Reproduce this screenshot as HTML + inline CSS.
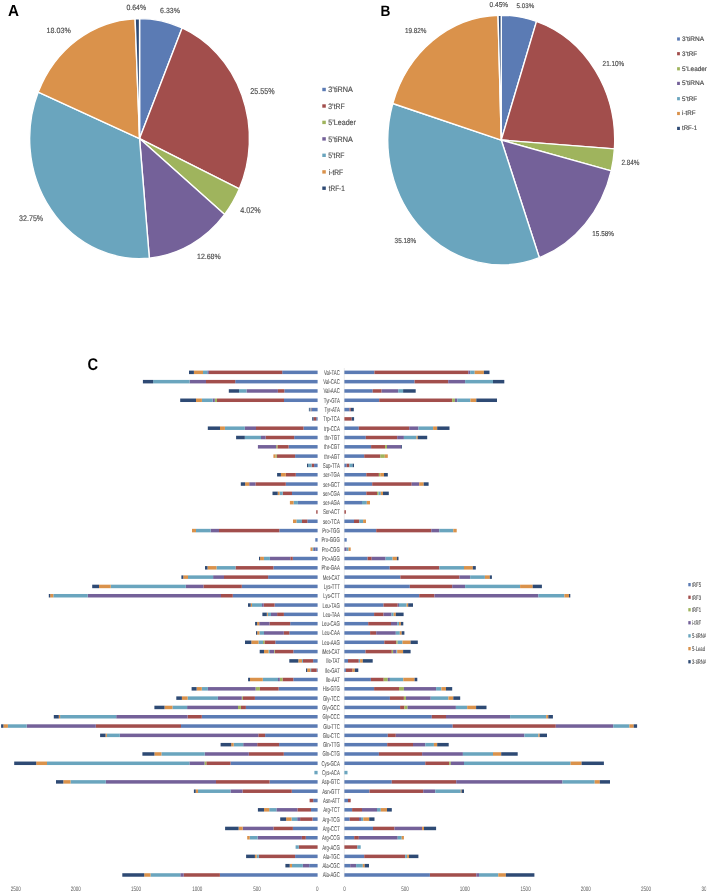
<!DOCTYPE html>
<html><head><meta charset="utf-8"><style>
html,body{margin:0;padding:0;background:#fff;}
body{width:708px;height:892px;position:relative;overflow:hidden;font-family:"Liberation Sans",sans-serif;}
svg text{font-family:"Liberation Sans",sans-serif;text-rendering:geometricPrecision;}
</style></head><body>
<svg width="708" height="892" viewBox="0 0 708 892" style="position:absolute;left:0;top:0;will-change:transform">
<path d="M139.55,138.6 L139.55,18.6 A109.9,120 0 0 1 182.12,27.97 Z" fill="#5b7bb4" stroke="#fff" stroke-width="1.4" stroke-linejoin="round"/>
<path d="M139.55,138.6 L182.12,27.97 A109.9,120 0 0 1 239.34,188.87 Z" fill="#a24e4c" stroke="#fff" stroke-width="1.4" stroke-linejoin="round"/>
<path d="M139.55,138.6 L239.34,188.87 A109.9,120 0 0 1 224.67,214.51 Z" fill="#9fb45d" stroke="#fff" stroke-width="1.4" stroke-linejoin="round"/>
<path d="M139.55,138.6 L224.67,214.51 A109.9,120 0 0 1 149.34,258.12 Z" fill="#746199" stroke="#fff" stroke-width="1.4" stroke-linejoin="round"/>
<path d="M139.55,138.6 L149.34,258.12 A109.9,120 0 0 1 38.23,92.12 Z" fill="#6aa5be" stroke="#fff" stroke-width="1.4" stroke-linejoin="round"/>
<path d="M139.55,138.6 L38.23,92.12 A109.9,120 0 0 1 135.13,18.7 Z" fill="#da924b" stroke="#fff" stroke-width="1.4" stroke-linejoin="round"/>
<path d="M139.55,138.6 L135.13,18.7 A109.9,120 0 0 1 139.55,18.6 Z" fill="#2e4a74" stroke="#fff" stroke-width="1.4" stroke-linejoin="round"/>
<path d="M501.25,140.05 L501.25,15.2 A113.45,124.85 0 0 1 536.51,21.38 Z" fill="#5b7bb4" stroke="#fff" stroke-width="1.4" stroke-linejoin="round"/>
<path d="M501.25,140.05 L536.51,21.38 A113.45,124.85 0 0 1 614.41,148.91 Z" fill="#a24e4c" stroke="#fff" stroke-width="1.4" stroke-linejoin="round"/>
<path d="M501.25,140.05 L614.41,148.91 A113.45,124.85 0 0 1 611.19,170.87 Z" fill="#9fb45d" stroke="#fff" stroke-width="1.4" stroke-linejoin="round"/>
<path d="M501.25,140.05 L611.19,170.87 A113.45,124.85 0 0 1 539.34,257.65 Z" fill="#746199" stroke="#fff" stroke-width="1.4" stroke-linejoin="round"/>
<path d="M501.25,140.05 L539.34,257.65 A113.45,124.85 0 0 1 392.77,103.49 Z" fill="#6aa5be" stroke="#fff" stroke-width="1.4" stroke-linejoin="round"/>
<path d="M501.25,140.05 L392.77,103.49 A113.45,124.85 0 0 1 498.04,15.25 Z" fill="#da924b" stroke="#fff" stroke-width="1.4" stroke-linejoin="round"/>
<path d="M501.25,140.05 L498.04,15.25 A113.45,124.85 0 0 1 501.25,15.2 Z" fill="#2e4a74" stroke="#fff" stroke-width="1.4" stroke-linejoin="round"/>
<text x="8" y="15.8" font-size="16" fill="#000" font-weight="bold" text-anchor="start" textLength="11" lengthAdjust="spacingAndGlyphs">A</text>
<text x="380.5" y="15.7" font-size="15" fill="#000" font-weight="bold" text-anchor="start" textLength="9.9" lengthAdjust="spacingAndGlyphs">B</text>
<text x="87.4" y="370.1" font-size="17" fill="#000" font-weight="bold" text-anchor="start" textLength="10.6" lengthAdjust="spacingAndGlyphs">C</text>
<text x="126.4" y="9.9" font-size="7.68" fill="#505050" font-weight="normal" text-anchor="start" textLength="19.7" lengthAdjust="spacingAndGlyphs" stroke="#505050" stroke-width="0.18">0.64%</text>
<text x="160.1" y="12.7" font-size="7.4" fill="#505050" font-weight="normal" text-anchor="start" textLength="19.8" lengthAdjust="spacingAndGlyphs" stroke="#505050" stroke-width="0.18">6.33%</text>
<text x="250.3" y="94" font-size="8.52" fill="#505050" font-weight="normal" text-anchor="start" textLength="24.4" lengthAdjust="spacingAndGlyphs" stroke="#505050" stroke-width="0.18">25.55%</text>
<text x="240.3" y="212.7" font-size="8.38" fill="#505050" font-weight="normal" text-anchor="start" textLength="20.5" lengthAdjust="spacingAndGlyphs" stroke="#505050" stroke-width="0.18">4.02%</text>
<text x="197" y="259" font-size="7.54" fill="#505050" font-weight="normal" text-anchor="start" textLength="23.7" lengthAdjust="spacingAndGlyphs" stroke="#505050" stroke-width="0.18">12.68%</text>
<text x="19.1" y="220.7" font-size="8.1" fill="#505050" font-weight="normal" text-anchor="start" textLength="24.1" lengthAdjust="spacingAndGlyphs" stroke="#505050" stroke-width="0.18">32.75%</text>
<text x="46.6" y="32.7" font-size="7.68" fill="#505050" font-weight="normal" text-anchor="start" textLength="24.2" lengthAdjust="spacingAndGlyphs" stroke="#505050" stroke-width="0.18">18.03%</text>
<text x="489.6" y="6.8" font-size="7.12" fill="#505050" font-weight="normal" text-anchor="start" textLength="18.5" lengthAdjust="spacingAndGlyphs" stroke="#505050" stroke-width="0.18">0.45%</text>
<text x="516.6" y="7.9" font-size="6.7" fill="#505050" font-weight="normal" text-anchor="start" textLength="17.6" lengthAdjust="spacingAndGlyphs" stroke="#505050" stroke-width="0.18">5.03%</text>
<text x="602.6" y="66.2" font-size="7.26" fill="#505050" font-weight="normal" text-anchor="start" textLength="21.6" lengthAdjust="spacingAndGlyphs" stroke="#505050" stroke-width="0.18">21.10%</text>
<text x="621.4" y="164.7" font-size="7.54" fill="#505050" font-weight="normal" text-anchor="start" textLength="18" lengthAdjust="spacingAndGlyphs" stroke="#505050" stroke-width="0.18">2.84%</text>
<text x="592.3" y="236.1" font-size="7.12" fill="#505050" font-weight="normal" text-anchor="start" textLength="21.6" lengthAdjust="spacingAndGlyphs" stroke="#505050" stroke-width="0.18">15.58%</text>
<text x="394.6" y="243.1" font-size="7.26" fill="#505050" font-weight="normal" text-anchor="start" textLength="21.6" lengthAdjust="spacingAndGlyphs" stroke="#505050" stroke-width="0.18">35.18%</text>
<text x="404.9" y="33.1" font-size="7.26" fill="#505050" font-weight="normal" text-anchor="start" textLength="21.6" lengthAdjust="spacingAndGlyphs" stroke="#505050" stroke-width="0.18">19.82%</text>
<rect x="322.3" y="87.8" width="3.5" height="3.4" fill="#5b7bb4"/>
<text x="328.3" y="92.1" font-size="7.8" fill="#505050" font-weight="normal" text-anchor="start" textLength="24.5" lengthAdjust="spacingAndGlyphs" stroke="#505050" stroke-width="0.18">3&#8217;tiRNA</text>
<rect x="322.3" y="104.3" width="3.5" height="3.4" fill="#a24e4c"/>
<text x="328.3" y="108.6" font-size="7.8" fill="#505050" font-weight="normal" text-anchor="start" textLength="16.4" lengthAdjust="spacingAndGlyphs" stroke="#505050" stroke-width="0.18">3&#8217;tRF</text>
<rect x="322.3" y="120.7" width="3.5" height="3.4" fill="#9fb45d"/>
<text x="328.3" y="125" font-size="7.8" fill="#505050" font-weight="normal" text-anchor="start" textLength="27.6" lengthAdjust="spacingAndGlyphs" stroke="#505050" stroke-width="0.18">5&#8217;Leader</text>
<rect x="322.3" y="137.2" width="3.5" height="3.4" fill="#746199"/>
<text x="328.3" y="141.5" font-size="7.8" fill="#505050" font-weight="normal" text-anchor="start" textLength="24.5" lengthAdjust="spacingAndGlyphs" stroke="#505050" stroke-width="0.18">5&#8217;tiRNA</text>
<rect x="322.3" y="153.6" width="3.5" height="3.4" fill="#6aa5be"/>
<text x="328.3" y="157.9" font-size="7.8" fill="#505050" font-weight="normal" text-anchor="start" textLength="16.2" lengthAdjust="spacingAndGlyphs" stroke="#505050" stroke-width="0.18">5&#8217;tRF</text>
<rect x="322.3" y="170.2" width="3.5" height="3.4" fill="#da924b"/>
<text x="328.7" y="174.5" font-size="7.8" fill="#505050" font-weight="normal" text-anchor="start" textLength="14.5" lengthAdjust="spacingAndGlyphs" stroke="#505050" stroke-width="0.18">i-tRF</text>
<rect x="322.3" y="186.5" width="3.5" height="3.4" fill="#2e4a74"/>
<text x="328.7" y="190.8" font-size="7.8" fill="#505050" font-weight="normal" text-anchor="start" textLength="16.1" lengthAdjust="spacingAndGlyphs" stroke="#505050" stroke-width="0.18">tRF-1</text>
<rect x="677.1" y="37.4" width="2.8" height="3.2" fill="#5b7bb4"/>
<text x="682" y="40.9" font-size="6.6" fill="#505050" font-weight="normal" text-anchor="start" textLength="22.1" lengthAdjust="spacingAndGlyphs" stroke="#505050" stroke-width="0.18">3&#8217;tiRNA</text>
<rect x="677.1" y="52.1" width="2.8" height="3.2" fill="#a24e4c"/>
<text x="682" y="55.6" font-size="6.6" fill="#505050" font-weight="normal" text-anchor="start" textLength="15" lengthAdjust="spacingAndGlyphs" stroke="#505050" stroke-width="0.18">3&#8217;tRF</text>
<rect x="677.1" y="67.2" width="2.8" height="3.2" fill="#9fb45d"/>
<text x="682" y="70.7" font-size="6.6" fill="#505050" font-weight="normal" text-anchor="start" textLength="25" lengthAdjust="spacingAndGlyphs" stroke="#505050" stroke-width="0.18">5&#8217;Leader</text>
<rect x="677.1" y="81.8" width="2.8" height="3.2" fill="#746199"/>
<text x="682" y="85.3" font-size="6.6" fill="#505050" font-weight="normal" text-anchor="start" textLength="22.1" lengthAdjust="spacingAndGlyphs" stroke="#505050" stroke-width="0.18">5&#8217;tiRNA</text>
<rect x="677.1" y="97.1" width="2.8" height="3.2" fill="#6aa5be"/>
<text x="682" y="100.6" font-size="6.6" fill="#505050" font-weight="normal" text-anchor="start" textLength="15" lengthAdjust="spacingAndGlyphs" stroke="#505050" stroke-width="0.18">5&#8217;tRF</text>
<rect x="677.1" y="111.9" width="2.8" height="3.2" fill="#da924b"/>
<text x="682.1" y="115.4" font-size="6.6" fill="#505050" font-weight="normal" text-anchor="start" textLength="13.4" lengthAdjust="spacingAndGlyphs" stroke="#505050" stroke-width="0.18">i-tRF</text>
<rect x="677.1" y="126.8" width="2.8" height="3.2" fill="#2e4a74"/>
<text x="682.1" y="130.3" font-size="6.6" fill="#505050" font-weight="normal" text-anchor="start" textLength="15" lengthAdjust="spacingAndGlyphs" stroke="#505050" stroke-width="0.18">tRF-1</text>
<line x1="344.3" y1="368" x2="344.3" y2="877.5" stroke="#dedede" stroke-width="0.6"/>
<rect x="282.2" y="370.6" width="35.4" height="3.5" fill="#5b7bb4"/>
<rect x="208.9" y="370.6" width="73.3" height="3.5" fill="#a24e4c"/>
<rect x="207.3" y="370.6" width="1.6" height="3.5" fill="#746199"/>
<rect x="203" y="370.6" width="4.3" height="3.5" fill="#6aa5be"/>
<rect x="193.9" y="370.6" width="9.1" height="3.5" fill="#da924b"/>
<rect x="189" y="370.6" width="4.9" height="3.5" fill="#2e4a74"/>
<rect x="344.4" y="370.6" width="30" height="3.5" fill="#5b7bb4"/>
<rect x="374.4" y="370.6" width="93.9" height="3.5" fill="#a24e4c"/>
<rect x="468.3" y="370.6" width="1.9" height="3.5" fill="#746199"/>
<rect x="470.2" y="370.6" width="4.5" height="3.5" fill="#6aa5be"/>
<rect x="474.7" y="370.6" width="9.2" height="3.5" fill="#da924b"/>
<rect x="483.9" y="370.6" width="5.6" height="3.5" fill="#2e4a74"/>
<text x="0" y="0" font-size="7" fill="#5a5a5a" stroke="#5a5a5a" stroke-width="0.08" text-anchor="end" transform="translate(339.8,374.8) scale(0.62,1)">Val-TAC</text>
<rect x="235.2" y="379.91" width="82.4" height="3.5" fill="#5b7bb4"/>
<rect x="206" y="379.91" width="29.2" height="3.5" fill="#a24e4c"/>
<rect x="189.6" y="379.91" width="16.4" height="3.5" fill="#746199"/>
<rect x="153.1" y="379.91" width="36.5" height="3.5" fill="#6aa5be"/>
<rect x="142.9" y="379.91" width="10.2" height="3.5" fill="#2e4a74"/>
<rect x="344.4" y="379.91" width="70.2" height="3.5" fill="#5b7bb4"/>
<rect x="414.6" y="379.91" width="33.6" height="3.5" fill="#a24e4c"/>
<rect x="448.2" y="379.91" width="16.9" height="3.5" fill="#746199"/>
<rect x="465.1" y="379.91" width="27.9" height="3.5" fill="#6aa5be"/>
<rect x="493" y="379.91" width="11.3" height="3.5" fill="#2e4a74"/>
<text x="0" y="0" font-size="7" fill="#5a5a5a" stroke="#5a5a5a" stroke-width="0.08" text-anchor="end" transform="translate(339.8,384.11) scale(0.62,1)">Val-CAC</text>
<rect x="284.3" y="389.22" width="33.3" height="3.5" fill="#5b7bb4"/>
<rect x="277.9" y="389.22" width="6.4" height="3.5" fill="#a24e4c"/>
<rect x="246.5" y="389.22" width="31.4" height="3.5" fill="#746199"/>
<rect x="239" y="389.22" width="7.5" height="3.5" fill="#6aa5be"/>
<rect x="228.8" y="389.22" width="10.2" height="3.5" fill="#2e4a74"/>
<rect x="344.4" y="389.22" width="28.3" height="3.5" fill="#5b7bb4"/>
<rect x="372.7" y="389.22" width="8.9" height="3.5" fill="#a24e4c"/>
<rect x="381.6" y="389.22" width="16.6" height="3.5" fill="#746199"/>
<rect x="398.2" y="389.22" width="4.9" height="3.5" fill="#6aa5be"/>
<rect x="403.1" y="389.22" width="12.6" height="3.5" fill="#2e4a74"/>
<text x="0" y="0" font-size="7" fill="#5a5a5a" stroke="#5a5a5a" stroke-width="0.08" text-anchor="end" transform="translate(339.8,393.42) scale(0.62,1)">Val-AAC</text>
<rect x="284" y="398.52" width="33.6" height="3.5" fill="#5b7bb4"/>
<rect x="217" y="398.52" width="67" height="3.5" fill="#a24e4c"/>
<rect x="214.8" y="398.52" width="2.2" height="3.5" fill="#9fb45d"/>
<rect x="212.7" y="398.52" width="2.1" height="3.5" fill="#746199"/>
<rect x="201.9" y="398.52" width="10.8" height="3.5" fill="#6aa5be"/>
<rect x="196" y="398.52" width="5.9" height="3.5" fill="#da924b"/>
<rect x="180.2" y="398.52" width="15.8" height="3.5" fill="#2e4a74"/>
<rect x="344.4" y="398.52" width="34.8" height="3.5" fill="#5b7bb4"/>
<rect x="379.2" y="398.52" width="73" height="3.5" fill="#a24e4c"/>
<rect x="452.2" y="398.52" width="2.7" height="3.5" fill="#9fb45d"/>
<rect x="454.9" y="398.52" width="2.4" height="3.5" fill="#746199"/>
<rect x="457.3" y="398.52" width="13.1" height="3.5" fill="#6aa5be"/>
<rect x="470.4" y="398.52" width="5.9" height="3.5" fill="#da924b"/>
<rect x="476.3" y="398.52" width="20.7" height="3.5" fill="#2e4a74"/>
<text x="0" y="0" font-size="7" fill="#5a5a5a" stroke="#5a5a5a" stroke-width="0.08" text-anchor="end" transform="translate(339.8,402.72) scale(0.62,1)">Tyr-GTA</text>
<rect x="311.4" y="407.83" width="6.2" height="3.5" fill="#5b7bb4"/>
<rect x="310.6" y="407.83" width="0.8" height="3.5" fill="#a24e4c"/>
<rect x="309.7" y="407.83" width="0.9" height="3.5" fill="#6aa5be"/>
<rect x="308.9" y="407.83" width="0.8" height="3.5" fill="#2e4a74"/>
<rect x="344.4" y="407.83" width="5.2" height="3.5" fill="#5b7bb4"/>
<rect x="349.6" y="407.83" width="1.2" height="3.5" fill="#a24e4c"/>
<rect x="350.8" y="407.83" width="3" height="3.5" fill="#2e4a74"/>
<text x="0" y="0" font-size="7" fill="#5a5a5a" stroke="#5a5a5a" stroke-width="0.08" text-anchor="end" transform="translate(339.8,412.03) scale(0.62,1)">Tyr-ATA</text>
<rect x="316.2" y="417.14" width="1.4" height="3.5" fill="#5b7bb4"/>
<rect x="313.5" y="417.14" width="2.7" height="3.5" fill="#a24e4c"/>
<rect x="312.2" y="417.14" width="1.3" height="3.5" fill="#2e4a74"/>
<rect x="344.4" y="417.14" width="7.3" height="3.5" fill="#a24e4c"/>
<rect x="351.7" y="417.14" width="2.4" height="3.5" fill="#2e4a74"/>
<text x="0" y="0" font-size="7" fill="#5a5a5a" stroke="#5a5a5a" stroke-width="0.08" text-anchor="end" transform="translate(339.8,421.34) scale(0.62,1)">Trp-TCA</text>
<rect x="303.5" y="426.45" width="14.1" height="3.5" fill="#5b7bb4"/>
<rect x="256" y="426.45" width="47.5" height="3.5" fill="#a24e4c"/>
<rect x="244.8" y="426.45" width="11.2" height="3.5" fill="#746199"/>
<rect x="224.9" y="426.45" width="19.9" height="3.5" fill="#6aa5be"/>
<rect x="220" y="426.45" width="4.9" height="3.5" fill="#da924b"/>
<rect x="207.8" y="426.45" width="12.2" height="3.5" fill="#2e4a74"/>
<rect x="344.4" y="426.45" width="14.4" height="3.5" fill="#5b7bb4"/>
<rect x="358.8" y="426.45" width="50.4" height="3.5" fill="#a24e4c"/>
<rect x="409.2" y="426.45" width="9.2" height="3.5" fill="#746199"/>
<rect x="418.4" y="426.45" width="14.7" height="3.5" fill="#6aa5be"/>
<rect x="433.1" y="426.45" width="4.1" height="3.5" fill="#da924b"/>
<rect x="437.2" y="426.45" width="12.3" height="3.5" fill="#2e4a74"/>
<text x="0" y="0" font-size="7" fill="#5a5a5a" stroke="#5a5a5a" stroke-width="0.08" text-anchor="end" transform="translate(339.8,430.65) scale(0.62,1)">trp-CCA</text>
<rect x="294.2" y="435.76" width="23.4" height="3.5" fill="#5b7bb4"/>
<rect x="265.6" y="435.76" width="28.6" height="3.5" fill="#a24e4c"/>
<rect x="261" y="435.76" width="4.6" height="3.5" fill="#746199"/>
<rect x="244.8" y="435.76" width="16.2" height="3.5" fill="#6aa5be"/>
<rect x="236.1" y="435.76" width="8.7" height="3.5" fill="#2e4a74"/>
<rect x="344.4" y="435.76" width="21.4" height="3.5" fill="#5b7bb4"/>
<rect x="365.8" y="435.76" width="31.4" height="3.5" fill="#a24e4c"/>
<rect x="397.2" y="435.76" width="6.7" height="3.5" fill="#746199"/>
<rect x="403.9" y="435.76" width="12.6" height="3.5" fill="#6aa5be"/>
<rect x="416.5" y="435.76" width="1.3" height="3.5" fill="#da924b"/>
<rect x="417.8" y="435.76" width="9.4" height="3.5" fill="#2e4a74"/>
<text x="0" y="0" font-size="7" fill="#5a5a5a" stroke="#5a5a5a" stroke-width="0.08" text-anchor="end" transform="translate(339.8,439.96) scale(0.62,1)">thr-TGT</text>
<rect x="288.6" y="445.06" width="29" height="3.5" fill="#5b7bb4"/>
<rect x="277.4" y="445.06" width="11.2" height="3.5" fill="#a24e4c"/>
<rect x="276.2" y="445.06" width="1.2" height="3.5" fill="#9fb45d"/>
<rect x="257.9" y="445.06" width="18.3" height="3.5" fill="#746199"/>
<rect x="344.4" y="445.06" width="26.7" height="3.5" fill="#5b7bb4"/>
<rect x="371.1" y="445.06" width="14" height="3.5" fill="#a24e4c"/>
<rect x="385.1" y="445.06" width="1.9" height="3.5" fill="#9fb45d"/>
<rect x="387" y="445.06" width="14.2" height="3.5" fill="#746199"/>
<rect x="401.2" y="445.06" width="0.8" height="3.5" fill="#2e4a74"/>
<text x="0" y="0" font-size="7" fill="#5a5a5a" stroke="#5a5a5a" stroke-width="0.08" text-anchor="end" transform="translate(339.8,449.26) scale(0.62,1)">thr-CGT</text>
<rect x="295.1" y="454.37" width="22.5" height="3.5" fill="#5b7bb4"/>
<rect x="276.8" y="454.37" width="18.3" height="3.5" fill="#a24e4c"/>
<rect x="275.6" y="454.37" width="1.2" height="3.5" fill="#9fb45d"/>
<rect x="273.4" y="454.37" width="2.2" height="3.5" fill="#da924b"/>
<rect x="344.4" y="454.37" width="19.8" height="3.5" fill="#5b7bb4"/>
<rect x="364.2" y="454.37" width="16.1" height="3.5" fill="#a24e4c"/>
<rect x="380.3" y="454.37" width="4.5" height="3.5" fill="#9fb45d"/>
<rect x="384.8" y="454.37" width="3" height="3.5" fill="#da924b"/>
<text x="0" y="0" font-size="7" fill="#5a5a5a" stroke="#5a5a5a" stroke-width="0.08" text-anchor="end" transform="translate(339.8,458.57) scale(0.62,1)">thr-AGT</text>
<rect x="314.1" y="463.68" width="3.5" height="3.5" fill="#5b7bb4"/>
<rect x="311.6" y="463.68" width="2.5" height="3.5" fill="#a24e4c"/>
<rect x="308.2" y="463.68" width="3.4" height="3.5" fill="#6aa5be"/>
<rect x="307" y="463.68" width="1.2" height="3.5" fill="#2e4a74"/>
<rect x="344.4" y="463.68" width="2.3" height="3.5" fill="#5b7bb4"/>
<rect x="346.7" y="463.68" width="2.7" height="3.5" fill="#a24e4c"/>
<rect x="349.4" y="463.68" width="3.2" height="3.5" fill="#6aa5be"/>
<rect x="352.6" y="463.68" width="1.4" height="3.5" fill="#2e4a74"/>
<text x="0" y="0" font-size="7" fill="#5a5a5a" stroke="#5a5a5a" stroke-width="0.08" text-anchor="end" transform="translate(339.8,467.88) scale(0.62,1)">Sup-TTA</text>
<rect x="295.8" y="472.99" width="21.8" height="3.5" fill="#5b7bb4"/>
<rect x="285.8" y="472.99" width="10" height="3.5" fill="#a24e4c"/>
<rect x="280.9" y="472.99" width="4.9" height="3.5" fill="#da924b"/>
<rect x="277.1" y="472.99" width="3.8" height="3.5" fill="#2e4a74"/>
<rect x="344.4" y="472.99" width="21.9" height="3.5" fill="#5b7bb4"/>
<rect x="366.3" y="472.99" width="12.6" height="3.5" fill="#a24e4c"/>
<rect x="378.9" y="472.99" width="1.4" height="3.5" fill="#9fb45d"/>
<rect x="380.3" y="472.99" width="3.7" height="3.5" fill="#da924b"/>
<rect x="384" y="472.99" width="3.8" height="3.5" fill="#2e4a74"/>
<text x="0" y="0" font-size="7" fill="#5a5a5a" stroke="#5a5a5a" stroke-width="0.08" text-anchor="end" transform="translate(339.8,477.19) scale(0.62,1)">ser-TGA</text>
<rect x="285.8" y="482.3" width="31.8" height="3.5" fill="#5b7bb4"/>
<rect x="255.4" y="482.3" width="30.4" height="3.5" fill="#a24e4c"/>
<rect x="249.2" y="482.3" width="6.2" height="3.5" fill="#746199"/>
<rect x="245.1" y="482.3" width="4.1" height="3.5" fill="#da924b"/>
<rect x="240.8" y="482.3" width="4.3" height="3.5" fill="#2e4a74"/>
<rect x="344.4" y="482.3" width="27.8" height="3.5" fill="#5b7bb4"/>
<rect x="372.2" y="482.3" width="39.5" height="3.5" fill="#a24e4c"/>
<rect x="411.7" y="482.3" width="7.5" height="3.5" fill="#746199"/>
<rect x="419.2" y="482.3" width="4.5" height="3.5" fill="#da924b"/>
<rect x="423.7" y="482.3" width="4.9" height="3.5" fill="#2e4a74"/>
<text x="0" y="0" font-size="7" fill="#5a5a5a" stroke="#5a5a5a" stroke-width="0.08" text-anchor="end" transform="translate(339.8,486.5) scale(0.62,1)">ser-GCT</text>
<rect x="292" y="491.6" width="25.6" height="3.5" fill="#5b7bb4"/>
<rect x="282.7" y="491.6" width="9.3" height="3.5" fill="#a24e4c"/>
<rect x="279.6" y="491.6" width="3.1" height="3.5" fill="#6aa5be"/>
<rect x="277.7" y="491.6" width="1.9" height="3.5" fill="#da924b"/>
<rect x="272.5" y="491.6" width="5.2" height="3.5" fill="#2e4a74"/>
<rect x="344.4" y="491.6" width="21.9" height="3.5" fill="#5b7bb4"/>
<rect x="366.3" y="491.6" width="10.7" height="3.5" fill="#a24e4c"/>
<rect x="377" y="491.6" width="1.5" height="3.5" fill="#9fb45d"/>
<rect x="378.5" y="491.6" width="2.3" height="3.5" fill="#6aa5be"/>
<rect x="380.8" y="491.6" width="2.2" height="3.5" fill="#da924b"/>
<rect x="383" y="491.6" width="5.8" height="3.5" fill="#2e4a74"/>
<text x="0" y="0" font-size="7" fill="#5a5a5a" stroke="#5a5a5a" stroke-width="0.08" text-anchor="end" transform="translate(339.8,495.8) scale(0.62,1)">ser-CGA</text>
<rect x="297.9" y="500.91" width="19.7" height="3.5" fill="#5b7bb4"/>
<rect x="293.6" y="500.91" width="4.3" height="3.5" fill="#6aa5be"/>
<rect x="289.9" y="500.91" width="3.7" height="3.5" fill="#da924b"/>
<rect x="344.4" y="500.91" width="17.6" height="3.5" fill="#5b7bb4"/>
<rect x="362" y="500.91" width="4.8" height="3.5" fill="#6aa5be"/>
<rect x="366.8" y="500.91" width="3.2" height="3.5" fill="#da924b"/>
<text x="0" y="0" font-size="7" fill="#5a5a5a" stroke="#5a5a5a" stroke-width="0.08" text-anchor="end" transform="translate(339.8,505.11) scale(0.62,1)">ser-AGA</text>
<rect x="316.2" y="510.22" width="1.4" height="3.5" fill="#a24e4c"/>
<rect x="344.4" y="510.22" width="1.5" height="3.5" fill="#a24e4c"/>
<text x="0" y="0" font-size="7" fill="#5a5a5a" stroke="#5a5a5a" stroke-width="0.08" text-anchor="end" transform="translate(339.8,514.42) scale(0.62,1)">Ser-ACT</text>
<rect x="307.3" y="519.53" width="10.3" height="3.5" fill="#5b7bb4"/>
<rect x="302" y="519.53" width="5.3" height="3.5" fill="#a24e4c"/>
<rect x="296.4" y="519.53" width="5.6" height="3.5" fill="#6aa5be"/>
<rect x="293" y="519.53" width="3.4" height="3.5" fill="#da924b"/>
<rect x="344.4" y="519.53" width="9.6" height="3.5" fill="#5b7bb4"/>
<rect x="354" y="519.53" width="5.3" height="3.5" fill="#a24e4c"/>
<rect x="359.3" y="519.53" width="3.8" height="3.5" fill="#6aa5be"/>
<rect x="363.1" y="519.53" width="2.9" height="3.5" fill="#da924b"/>
<text x="0" y="0" font-size="7" fill="#5a5a5a" stroke="#5a5a5a" stroke-width="0.08" text-anchor="end" transform="translate(339.8,523.73) scale(0.62,1)">sec-TCA</text>
<rect x="279.3" y="528.84" width="38.3" height="3.5" fill="#5b7bb4"/>
<rect x="219" y="528.84" width="60.3" height="3.5" fill="#a24e4c"/>
<rect x="210.6" y="528.84" width="8.4" height="3.5" fill="#746199"/>
<rect x="196" y="528.84" width="14.6" height="3.5" fill="#6aa5be"/>
<rect x="192" y="528.84" width="4" height="3.5" fill="#da924b"/>
<rect x="344.4" y="528.84" width="31.8" height="3.5" fill="#5b7bb4"/>
<rect x="376.2" y="528.84" width="55.1" height="3.5" fill="#a24e4c"/>
<rect x="431.3" y="528.84" width="8" height="3.5" fill="#746199"/>
<rect x="439.3" y="528.84" width="14" height="3.5" fill="#6aa5be"/>
<rect x="453.3" y="528.84" width="3.4" height="3.5" fill="#da924b"/>
<text x="0" y="0" font-size="7" fill="#5a5a5a" stroke="#5a5a5a" stroke-width="0.08" text-anchor="end" transform="translate(339.8,533.04) scale(0.62,1)">Pro-TGG</text>
<rect x="315.3" y="538.14" width="2.3" height="3.5" fill="#5b7bb4"/>
<rect x="344.4" y="538.14" width="2.3" height="3.5" fill="#5b7bb4"/>
<text x="0" y="0" font-size="7" fill="#5a5a5a" stroke="#5a5a5a" stroke-width="0.08" text-anchor="end" transform="translate(339.8,542.34) scale(0.62,1)">Pro-GGG</text>
<rect x="315.5" y="547.45" width="2.1" height="3.5" fill="#5b7bb4"/>
<rect x="314" y="547.45" width="1.5" height="3.5" fill="#746199"/>
<rect x="312.5" y="547.45" width="1.5" height="3.5" fill="#6aa5be"/>
<rect x="310.5" y="547.45" width="2" height="3.5" fill="#da924b"/>
<rect x="344.4" y="547.45" width="2.3" height="3.5" fill="#746199"/>
<rect x="346.7" y="547.45" width="1.9" height="3.5" fill="#6aa5be"/>
<rect x="348.6" y="547.45" width="2.1" height="3.5" fill="#da924b"/>
<text x="0" y="0" font-size="7" fill="#5a5a5a" stroke="#5a5a5a" stroke-width="0.08" text-anchor="end" transform="translate(339.8,551.65) scale(0.62,1)">Pro-CGG</text>
<rect x="292.8" y="556.76" width="24.8" height="3.5" fill="#5b7bb4"/>
<rect x="290.3" y="556.76" width="2.5" height="3.5" fill="#a24e4c"/>
<rect x="269.9" y="556.76" width="20.4" height="3.5" fill="#746199"/>
<rect x="263.9" y="556.76" width="6" height="3.5" fill="#6aa5be"/>
<rect x="260.1" y="556.76" width="3.8" height="3.5" fill="#da924b"/>
<rect x="259" y="556.76" width="1.1" height="3.5" fill="#2e4a74"/>
<rect x="344.4" y="556.76" width="23.2" height="3.5" fill="#5b7bb4"/>
<rect x="367.6" y="556.76" width="4.1" height="3.5" fill="#a24e4c"/>
<rect x="371.7" y="556.76" width="13.9" height="3.5" fill="#746199"/>
<rect x="385.6" y="556.76" width="7" height="3.5" fill="#6aa5be"/>
<rect x="392.6" y="556.76" width="4.3" height="3.5" fill="#da924b"/>
<rect x="396.9" y="556.76" width="1.6" height="3.5" fill="#2e4a74"/>
<text x="0" y="0" font-size="7" fill="#5a5a5a" stroke="#5a5a5a" stroke-width="0.08" text-anchor="end" transform="translate(339.8,560.96) scale(0.62,1)">Pro-AGG</text>
<rect x="273.4" y="566.07" width="44.2" height="3.5" fill="#5b7bb4"/>
<rect x="235.5" y="566.07" width="37.9" height="3.5" fill="#a24e4c"/>
<rect x="216.5" y="566.07" width="19" height="3.5" fill="#6aa5be"/>
<rect x="207.5" y="566.07" width="9" height="3.5" fill="#da924b"/>
<rect x="205" y="566.07" width="2.5" height="3.5" fill="#2e4a74"/>
<rect x="344.4" y="566.07" width="45.3" height="3.5" fill="#5b7bb4"/>
<rect x="389.7" y="566.07" width="49.6" height="3.5" fill="#a24e4c"/>
<rect x="439.3" y="566.07" width="24.7" height="3.5" fill="#6aa5be"/>
<rect x="464" y="566.07" width="8.8" height="3.5" fill="#da924b"/>
<rect x="472.8" y="566.07" width="3" height="3.5" fill="#2e4a74"/>
<text x="0" y="0" font-size="7" fill="#5a5a5a" stroke="#5a5a5a" stroke-width="0.08" text-anchor="end" transform="translate(339.8,570.27) scale(0.62,1)">Phe-GAA</text>
<rect x="268.1" y="575.38" width="49.5" height="3.5" fill="#5b7bb4"/>
<rect x="224" y="575.38" width="44.1" height="3.5" fill="#a24e4c"/>
<rect x="213.1" y="575.38" width="10.9" height="3.5" fill="#746199"/>
<rect x="188" y="575.38" width="25.1" height="3.5" fill="#6aa5be"/>
<rect x="183.3" y="575.38" width="4.7" height="3.5" fill="#da924b"/>
<rect x="181.4" y="575.38" width="1.9" height="3.5" fill="#2e4a74"/>
<rect x="344.4" y="575.38" width="56" height="3.5" fill="#5b7bb4"/>
<rect x="400.4" y="575.38" width="59" height="3.5" fill="#a24e4c"/>
<rect x="459.4" y="575.38" width="10.8" height="3.5" fill="#746199"/>
<rect x="470.2" y="575.38" width="14.7" height="3.5" fill="#6aa5be"/>
<rect x="484.9" y="575.38" width="4.9" height="3.5" fill="#da924b"/>
<rect x="489.8" y="575.38" width="2.1" height="3.5" fill="#2e4a74"/>
<text x="0" y="0" font-size="7" fill="#5a5a5a" stroke="#5a5a5a" stroke-width="0.08" text-anchor="end" transform="translate(339.8,579.58) scale(0.62,1)">Met-CAT</text>
<rect x="241.8" y="584.68" width="75.8" height="3.5" fill="#5b7bb4"/>
<rect x="203.4" y="584.68" width="38.4" height="3.5" fill="#a24e4c"/>
<rect x="185.8" y="584.68" width="17.6" height="3.5" fill="#746199"/>
<rect x="110.7" y="584.68" width="75.1" height="3.5" fill="#6aa5be"/>
<rect x="99" y="584.68" width="11.7" height="3.5" fill="#da924b"/>
<rect x="92.2" y="584.68" width="6.8" height="3.5" fill="#2e4a74"/>
<rect x="344.4" y="584.68" width="65.4" height="3.5" fill="#5b7bb4"/>
<rect x="409.8" y="584.68" width="42.4" height="3.5" fill="#a24e4c"/>
<rect x="452.2" y="584.68" width="12.9" height="3.5" fill="#746199"/>
<rect x="465.1" y="584.68" width="55" height="3.5" fill="#6aa5be"/>
<rect x="520.1" y="584.68" width="12.6" height="3.5" fill="#da924b"/>
<rect x="532.7" y="584.68" width="9.2" height="3.5" fill="#2e4a74"/>
<text x="0" y="0" font-size="7" fill="#5a5a5a" stroke="#5a5a5a" stroke-width="0.08" text-anchor="end" transform="translate(339.8,588.88) scale(0.62,1)">Lys-TTT</text>
<rect x="232.8" y="593.99" width="84.8" height="3.5" fill="#5b7bb4"/>
<rect x="221" y="593.99" width="11.8" height="3.5" fill="#a24e4c"/>
<rect x="87.7" y="593.99" width="133.3" height="3.5" fill="#746199"/>
<rect x="53.3" y="593.99" width="34.4" height="3.5" fill="#6aa5be"/>
<rect x="50.2" y="593.99" width="3.1" height="3.5" fill="#da924b"/>
<rect x="48.8" y="593.99" width="1.4" height="3.5" fill="#2e4a74"/>
<rect x="344.4" y="593.99" width="74.8" height="3.5" fill="#5b7bb4"/>
<rect x="419.2" y="593.99" width="15.3" height="3.5" fill="#a24e4c"/>
<rect x="434.5" y="593.99" width="103.9" height="3.5" fill="#746199"/>
<rect x="538.4" y="593.99" width="26" height="3.5" fill="#6aa5be"/>
<rect x="564.4" y="593.99" width="4.6" height="3.5" fill="#da924b"/>
<rect x="569" y="593.99" width="1.3" height="3.5" fill="#2e4a74"/>
<text x="0" y="0" font-size="7" fill="#5a5a5a" stroke="#5a5a5a" stroke-width="0.08" text-anchor="end" transform="translate(339.8,598.19) scale(0.62,1)">Lys-CTT</text>
<rect x="274.6" y="603.3" width="43" height="3.5" fill="#5b7bb4"/>
<rect x="263.7" y="603.3" width="10.9" height="3.5" fill="#a24e4c"/>
<rect x="262" y="603.3" width="1.7" height="3.5" fill="#746199"/>
<rect x="252" y="603.3" width="10" height="3.5" fill="#6aa5be"/>
<rect x="250.7" y="603.3" width="1.3" height="3.5" fill="#da924b"/>
<rect x="248" y="603.3" width="2.7" height="3.5" fill="#2e4a74"/>
<rect x="344.4" y="603.3" width="39.1" height="3.5" fill="#5b7bb4"/>
<rect x="383.5" y="603.3" width="14.2" height="3.5" fill="#a24e4c"/>
<rect x="397.7" y="603.3" width="1.3" height="3.5" fill="#746199"/>
<rect x="399" y="603.3" width="7.6" height="3.5" fill="#6aa5be"/>
<rect x="406.6" y="603.3" width="1.6" height="3.5" fill="#da924b"/>
<rect x="408.2" y="603.3" width="4.8" height="3.5" fill="#2e4a74"/>
<text x="0" y="0" font-size="7" fill="#5a5a5a" stroke="#5a5a5a" stroke-width="0.08" text-anchor="end" transform="translate(339.8,607.5) scale(0.62,1)">Leu-TAG</text>
<rect x="283.9" y="612.61" width="33.7" height="3.5" fill="#5b7bb4"/>
<rect x="277.1" y="612.61" width="6.8" height="3.5" fill="#a24e4c"/>
<rect x="271" y="612.61" width="6.1" height="3.5" fill="#746199"/>
<rect x="267.8" y="612.61" width="3.2" height="3.5" fill="#6aa5be"/>
<rect x="266.8" y="612.61" width="1" height="3.5" fill="#da924b"/>
<rect x="262.4" y="612.61" width="4.4" height="3.5" fill="#2e4a74"/>
<rect x="344.4" y="612.61" width="29.7" height="3.5" fill="#5b7bb4"/>
<rect x="374.1" y="612.61" width="9.4" height="3.5" fill="#a24e4c"/>
<rect x="383.5" y="612.61" width="8" height="3.5" fill="#746199"/>
<rect x="391.5" y="612.61" width="2.2" height="3.5" fill="#6aa5be"/>
<rect x="393.7" y="612.61" width="2.1" height="3.5" fill="#da924b"/>
<rect x="395.8" y="612.61" width="7.8" height="3.5" fill="#2e4a74"/>
<text x="0" y="0" font-size="7" fill="#5a5a5a" stroke="#5a5a5a" stroke-width="0.08" text-anchor="end" transform="translate(339.8,616.81) scale(0.62,1)">Leu-TAA</text>
<rect x="290.2" y="621.92" width="27.4" height="3.5" fill="#5b7bb4"/>
<rect x="269.5" y="621.92" width="20.7" height="3.5" fill="#a24e4c"/>
<rect x="259.2" y="621.92" width="10.3" height="3.5" fill="#746199"/>
<rect x="257.1" y="621.92" width="2.1" height="3.5" fill="#da924b"/>
<rect x="255.1" y="621.92" width="2" height="3.5" fill="#2e4a74"/>
<rect x="344.4" y="621.92" width="23.8" height="3.5" fill="#5b7bb4"/>
<rect x="368.2" y="621.92" width="22.8" height="3.5" fill="#a24e4c"/>
<rect x="391" y="621.92" width="6.2" height="3.5" fill="#746199"/>
<rect x="397.2" y="621.92" width="1.8" height="3.5" fill="#6aa5be"/>
<rect x="399" y="621.92" width="1.9" height="3.5" fill="#da924b"/>
<rect x="400.9" y="621.92" width="2.4" height="3.5" fill="#2e4a74"/>
<text x="0" y="0" font-size="7" fill="#5a5a5a" stroke="#5a5a5a" stroke-width="0.08" text-anchor="end" transform="translate(339.8,626.12) scale(0.62,1)">Leu-CAG</text>
<rect x="289.3" y="631.22" width="28.3" height="3.5" fill="#5b7bb4"/>
<rect x="283.8" y="631.22" width="5.5" height="3.5" fill="#a24e4c"/>
<rect x="264" y="631.22" width="19.8" height="3.5" fill="#746199"/>
<rect x="259.4" y="631.22" width="4.6" height="3.5" fill="#6aa5be"/>
<rect x="257.2" y="631.22" width="2.2" height="3.5" fill="#da924b"/>
<rect x="256" y="631.22" width="1.2" height="3.5" fill="#2e4a74"/>
<rect x="344.4" y="631.22" width="25.7" height="3.5" fill="#5b7bb4"/>
<rect x="370.1" y="631.22" width="6.1" height="3.5" fill="#a24e4c"/>
<rect x="376.2" y="631.22" width="19.6" height="3.5" fill="#746199"/>
<rect x="395.8" y="631.22" width="4" height="3.5" fill="#6aa5be"/>
<rect x="399.8" y="631.22" width="1.9" height="3.5" fill="#da924b"/>
<rect x="401.7" y="631.22" width="2.7" height="3.5" fill="#2e4a74"/>
<text x="0" y="0" font-size="7" fill="#5a5a5a" stroke="#5a5a5a" stroke-width="0.08" text-anchor="end" transform="translate(339.8,635.42) scale(0.62,1)">Leu-CAA</text>
<rect x="275.3" y="640.53" width="42.3" height="3.5" fill="#5b7bb4"/>
<rect x="264.4" y="640.53" width="10.9" height="3.5" fill="#a24e4c"/>
<rect x="263" y="640.53" width="1.4" height="3.5" fill="#9fb45d"/>
<rect x="258.5" y="640.53" width="4.5" height="3.5" fill="#6aa5be"/>
<rect x="251.3" y="640.53" width="7.2" height="3.5" fill="#da924b"/>
<rect x="245" y="640.53" width="6.3" height="3.5" fill="#2e4a74"/>
<rect x="344.4" y="640.53" width="39.9" height="3.5" fill="#5b7bb4"/>
<rect x="384.3" y="640.53" width="12.1" height="3.5" fill="#a24e4c"/>
<rect x="396.4" y="640.53" width="1.3" height="3.5" fill="#9fb45d"/>
<rect x="397.7" y="640.53" width="4.8" height="3.5" fill="#6aa5be"/>
<rect x="402.5" y="640.53" width="8.1" height="3.5" fill="#da924b"/>
<rect x="410.6" y="640.53" width="7.2" height="3.5" fill="#2e4a74"/>
<text x="0" y="0" font-size="7" fill="#5a5a5a" stroke="#5a5a5a" stroke-width="0.08" text-anchor="end" transform="translate(339.8,644.73) scale(0.62,1)">Leu-AAG</text>
<rect x="293.3" y="649.84" width="24.3" height="3.5" fill="#5b7bb4"/>
<rect x="274.8" y="649.84" width="18.5" height="3.5" fill="#a24e4c"/>
<rect x="274.1" y="649.84" width="0.7" height="3.5" fill="#9fb45d"/>
<rect x="270" y="649.84" width="4.1" height="3.5" fill="#746199"/>
<rect x="268.5" y="649.84" width="1.5" height="3.5" fill="#6aa5be"/>
<rect x="264" y="649.84" width="4.5" height="3.5" fill="#da924b"/>
<rect x="259.7" y="649.84" width="4.3" height="3.5" fill="#2e4a74"/>
<rect x="344.4" y="649.84" width="21.1" height="3.5" fill="#5b7bb4"/>
<rect x="365.5" y="649.84" width="26.3" height="3.5" fill="#a24e4c"/>
<rect x="391.8" y="649.84" width="1.3" height="3.5" fill="#9fb45d"/>
<rect x="393.1" y="649.84" width="3.3" height="3.5" fill="#746199"/>
<rect x="396.4" y="649.84" width="0.8" height="3.5" fill="#6aa5be"/>
<rect x="397.2" y="649.84" width="5.9" height="3.5" fill="#da924b"/>
<rect x="403.1" y="649.84" width="7.5" height="3.5" fill="#2e4a74"/>
<text x="0" y="0" font-size="7" fill="#5a5a5a" stroke="#5a5a5a" stroke-width="0.08" text-anchor="end" transform="translate(339.8,654.04) scale(0.62,1)">iMet-CAT</text>
<rect x="313.1" y="659.15" width="4.5" height="3.5" fill="#5b7bb4"/>
<rect x="303" y="659.15" width="10.1" height="3.5" fill="#a24e4c"/>
<rect x="302" y="659.15" width="1" height="3.5" fill="#6aa5be"/>
<rect x="298.3" y="659.15" width="3.7" height="3.5" fill="#da924b"/>
<rect x="289.3" y="659.15" width="9" height="3.5" fill="#2e4a74"/>
<rect x="344.4" y="659.15" width="3.6" height="3.5" fill="#5b7bb4"/>
<rect x="348" y="659.15" width="10.8" height="3.5" fill="#a24e4c"/>
<rect x="358.8" y="659.15" width="1.3" height="3.5" fill="#6aa5be"/>
<rect x="360.1" y="659.15" width="2.7" height="3.5" fill="#da924b"/>
<rect x="362.8" y="659.15" width="9.9" height="3.5" fill="#2e4a74"/>
<text x="0" y="0" font-size="7" fill="#5a5a5a" stroke="#5a5a5a" stroke-width="0.08" text-anchor="end" transform="translate(339.8,663.35) scale(0.62,1)">Ile-TAT</text>
<rect x="316.7" y="668.46" width="0.9" height="3.5" fill="#5b7bb4"/>
<rect x="311.1" y="668.46" width="5.6" height="3.5" fill="#a24e4c"/>
<rect x="310.2" y="668.46" width="0.9" height="3.5" fill="#6aa5be"/>
<rect x="307.2" y="668.46" width="3" height="3.5" fill="#da924b"/>
<rect x="306" y="668.46" width="1.2" height="3.5" fill="#2e4a74"/>
<rect x="344.4" y="668.46" width="1.5" height="3.5" fill="#5b7bb4"/>
<rect x="345.9" y="668.46" width="6.7" height="3.5" fill="#a24e4c"/>
<rect x="352.6" y="668.46" width="2.2" height="3.5" fill="#da924b"/>
<rect x="354.8" y="668.46" width="3.5" height="3.5" fill="#2e4a74"/>
<text x="0" y="0" font-size="7" fill="#5a5a5a" stroke="#5a5a5a" stroke-width="0.08" text-anchor="end" transform="translate(339.8,672.66) scale(0.62,1)">Ile-GAT</text>
<rect x="293.3" y="677.76" width="24.3" height="3.5" fill="#5b7bb4"/>
<rect x="282.5" y="677.76" width="10.8" height="3.5" fill="#a24e4c"/>
<rect x="279.8" y="677.76" width="2.7" height="3.5" fill="#9fb45d"/>
<rect x="278" y="677.76" width="1.8" height="3.5" fill="#746199"/>
<rect x="262.8" y="677.76" width="15.2" height="3.5" fill="#6aa5be"/>
<rect x="250" y="677.76" width="12.8" height="3.5" fill="#da924b"/>
<rect x="248.1" y="677.76" width="1.9" height="3.5" fill="#2e4a74"/>
<rect x="344.4" y="677.76" width="26.5" height="3.5" fill="#5b7bb4"/>
<rect x="370.9" y="677.76" width="12.8" height="3.5" fill="#a24e4c"/>
<rect x="383.7" y="677.76" width="4.1" height="3.5" fill="#9fb45d"/>
<rect x="387.8" y="677.76" width="2.1" height="3.5" fill="#746199"/>
<rect x="389.9" y="677.76" width="13.4" height="3.5" fill="#6aa5be"/>
<rect x="403.3" y="677.76" width="11.3" height="3.5" fill="#da924b"/>
<rect x="414.6" y="677.76" width="2.7" height="3.5" fill="#2e4a74"/>
<text x="0" y="0" font-size="7" fill="#5a5a5a" stroke="#5a5a5a" stroke-width="0.08" text-anchor="end" transform="translate(339.8,681.96) scale(0.62,1)">Ile-AAT</text>
<rect x="278.6" y="687.07" width="39" height="3.5" fill="#5b7bb4"/>
<rect x="259.9" y="687.07" width="18.7" height="3.5" fill="#a24e4c"/>
<rect x="255.6" y="687.07" width="4.3" height="3.5" fill="#9fb45d"/>
<rect x="207.9" y="687.07" width="47.7" height="3.5" fill="#746199"/>
<rect x="201.8" y="687.07" width="6.1" height="3.5" fill="#6aa5be"/>
<rect x="196.6" y="687.07" width="5.2" height="3.5" fill="#da924b"/>
<rect x="191.6" y="687.07" width="5" height="3.5" fill="#2e4a74"/>
<rect x="344.4" y="687.07" width="29.7" height="3.5" fill="#5b7bb4"/>
<rect x="374.1" y="687.07" width="24.9" height="3.5" fill="#a24e4c"/>
<rect x="399" y="687.07" width="4.9" height="3.5" fill="#9fb45d"/>
<rect x="403.9" y="687.07" width="32.2" height="3.5" fill="#746199"/>
<rect x="436.1" y="687.07" width="5.3" height="3.5" fill="#6aa5be"/>
<rect x="441.4" y="687.07" width="4.6" height="3.5" fill="#da924b"/>
<rect x="446" y="687.07" width="6.2" height="3.5" fill="#2e4a74"/>
<text x="0" y="0" font-size="7" fill="#5a5a5a" stroke="#5a5a5a" stroke-width="0.08" text-anchor="end" transform="translate(339.8,691.27) scale(0.62,1)">His-GTG</text>
<rect x="254.9" y="696.38" width="62.7" height="3.5" fill="#5b7bb4"/>
<rect x="242.9" y="696.38" width="12" height="3.5" fill="#a24e4c"/>
<rect x="241.8" y="696.38" width="1.1" height="3.5" fill="#9fb45d"/>
<rect x="217.9" y="696.38" width="23.9" height="3.5" fill="#746199"/>
<rect x="187.6" y="696.38" width="30.3" height="3.5" fill="#6aa5be"/>
<rect x="181.9" y="696.38" width="5.7" height="3.5" fill="#da924b"/>
<rect x="176.3" y="696.38" width="5.6" height="3.5" fill="#2e4a74"/>
<rect x="344.4" y="696.38" width="45.5" height="3.5" fill="#5b7bb4"/>
<rect x="389.9" y="696.38" width="14" height="3.5" fill="#a24e4c"/>
<rect x="403.9" y="696.38" width="2.1" height="3.5" fill="#9fb45d"/>
<rect x="406" y="696.38" width="24.7" height="3.5" fill="#746199"/>
<rect x="430.7" y="696.38" width="17.7" height="3.5" fill="#6aa5be"/>
<rect x="448.4" y="696.38" width="4.9" height="3.5" fill="#da924b"/>
<rect x="453.3" y="696.38" width="6.9" height="3.5" fill="#2e4a74"/>
<text x="0" y="0" font-size="7" fill="#5a5a5a" stroke="#5a5a5a" stroke-width="0.08" text-anchor="end" transform="translate(339.8,700.58) scale(0.62,1)">Gly-TCC</text>
<rect x="245.9" y="705.69" width="71.7" height="3.5" fill="#5b7bb4"/>
<rect x="240.9" y="705.69" width="5" height="3.5" fill="#a24e4c"/>
<rect x="238" y="705.69" width="2.9" height="3.5" fill="#9fb45d"/>
<rect x="187.1" y="705.69" width="50.9" height="3.5" fill="#746199"/>
<rect x="172.4" y="705.69" width="14.7" height="3.5" fill="#6aa5be"/>
<rect x="164.5" y="705.69" width="7.9" height="3.5" fill="#da924b"/>
<rect x="154.4" y="705.69" width="10.1" height="3.5" fill="#2e4a74"/>
<rect x="344.4" y="705.69" width="55.7" height="3.5" fill="#5b7bb4"/>
<rect x="400.1" y="705.69" width="4.3" height="3.5" fill="#a24e4c"/>
<rect x="404.4" y="705.69" width="3.2" height="3.5" fill="#9fb45d"/>
<rect x="407.6" y="705.69" width="48.3" height="3.5" fill="#746199"/>
<rect x="455.9" y="705.69" width="11.3" height="3.5" fill="#6aa5be"/>
<rect x="467.2" y="705.69" width="8.9" height="3.5" fill="#da924b"/>
<rect x="476.1" y="705.69" width="10.4" height="3.5" fill="#2e4a74"/>
<text x="0" y="0" font-size="7" fill="#5a5a5a" stroke="#5a5a5a" stroke-width="0.08" text-anchor="end" transform="translate(339.8,709.89) scale(0.62,1)">Gly-GCC</text>
<rect x="201.8" y="715" width="115.8" height="3.5" fill="#5b7bb4"/>
<rect x="187.6" y="715" width="14.2" height="3.5" fill="#a24e4c"/>
<rect x="116.2" y="715" width="71.4" height="3.5" fill="#746199"/>
<rect x="60.1" y="715" width="56.1" height="3.5" fill="#6aa5be"/>
<rect x="58.8" y="715" width="1.3" height="3.5" fill="#da924b"/>
<rect x="53.8" y="715" width="5" height="3.5" fill="#2e4a74"/>
<rect x="344.4" y="715" width="87.4" height="3.5" fill="#5b7bb4"/>
<rect x="431.8" y="715" width="14.2" height="3.5" fill="#a24e4c"/>
<rect x="446" y="715" width="64.1" height="3.5" fill="#746199"/>
<rect x="510.1" y="715" width="36.1" height="3.5" fill="#6aa5be"/>
<rect x="546.2" y="715" width="2.1" height="3.5" fill="#da924b"/>
<rect x="548.3" y="715" width="4.6" height="3.5" fill="#2e4a74"/>
<text x="0" y="0" font-size="7" fill="#5a5a5a" stroke="#5a5a5a" stroke-width="0.08" text-anchor="end" transform="translate(339.8,719.2) scale(0.62,1)">Gly-CCC</text>
<rect x="181" y="724.3" width="136.6" height="3.5" fill="#5b7bb4"/>
<rect x="95.8" y="724.3" width="85.2" height="3.5" fill="#a24e4c"/>
<rect x="26.7" y="724.3" width="69.1" height="3.5" fill="#746199"/>
<rect x="7.9" y="724.3" width="18.8" height="3.5" fill="#6aa5be"/>
<rect x="3.4" y="724.3" width="4.5" height="3.5" fill="#da924b"/>
<rect x="1.1" y="724.3" width="2.3" height="3.5" fill="#2e4a74"/>
<rect x="344.4" y="724.3" width="108.3" height="3.5" fill="#5b7bb4"/>
<rect x="452.7" y="724.3" width="103.1" height="3.5" fill="#a24e4c"/>
<rect x="555.8" y="724.3" width="57.5" height="3.5" fill="#746199"/>
<rect x="613.3" y="724.3" width="16.1" height="3.5" fill="#6aa5be"/>
<rect x="629.4" y="724.3" width="4.3" height="3.5" fill="#da924b"/>
<rect x="633.7" y="724.3" width="3.4" height="3.5" fill="#2e4a74"/>
<text x="0" y="0" font-size="7" fill="#5a5a5a" stroke="#5a5a5a" stroke-width="0.08" text-anchor="end" transform="translate(339.8,728.5) scale(0.62,1)">Glu-TTC</text>
<rect x="265.1" y="733.61" width="52.5" height="3.5" fill="#5b7bb4"/>
<rect x="258.3" y="733.61" width="6.8" height="3.5" fill="#a24e4c"/>
<rect x="119.8" y="733.61" width="138.5" height="3.5" fill="#746199"/>
<rect x="106.9" y="733.61" width="12.9" height="3.5" fill="#6aa5be"/>
<rect x="105.5" y="733.61" width="1.4" height="3.5" fill="#da924b"/>
<rect x="100.1" y="733.61" width="5.4" height="3.5" fill="#2e4a74"/>
<rect x="344.4" y="733.61" width="43.4" height="3.5" fill="#5b7bb4"/>
<rect x="387.8" y="733.61" width="8" height="3.5" fill="#a24e4c"/>
<rect x="395.8" y="733.61" width="128.6" height="3.5" fill="#746199"/>
<rect x="524.4" y="733.61" width="14" height="3.5" fill="#6aa5be"/>
<rect x="538.4" y="733.61" width="1.3" height="3.5" fill="#da924b"/>
<rect x="539.7" y="733.61" width="7.3" height="3.5" fill="#2e4a74"/>
<text x="0" y="0" font-size="7" fill="#5a5a5a" stroke="#5a5a5a" stroke-width="0.08" text-anchor="end" transform="translate(339.8,737.81) scale(0.62,1)">Glu-CTC</text>
<rect x="279.1" y="742.92" width="38.5" height="3.5" fill="#5b7bb4"/>
<rect x="257.2" y="742.92" width="21.9" height="3.5" fill="#a24e4c"/>
<rect x="243.2" y="742.92" width="14" height="3.5" fill="#746199"/>
<rect x="233.7" y="742.92" width="9.5" height="3.5" fill="#6aa5be"/>
<rect x="231.2" y="742.92" width="2.5" height="3.5" fill="#da924b"/>
<rect x="220.6" y="742.92" width="10.6" height="3.5" fill="#2e4a74"/>
<rect x="344.4" y="742.92" width="42.8" height="3.5" fill="#5b7bb4"/>
<rect x="387.2" y="742.92" width="25.8" height="3.5" fill="#a24e4c"/>
<rect x="413" y="742.92" width="12.3" height="3.5" fill="#746199"/>
<rect x="425.3" y="742.92" width="8.6" height="3.5" fill="#6aa5be"/>
<rect x="433.9" y="742.92" width="3.3" height="3.5" fill="#da924b"/>
<rect x="437.2" y="742.92" width="11.5" height="3.5" fill="#2e4a74"/>
<text x="0" y="0" font-size="7" fill="#5a5a5a" stroke="#5a5a5a" stroke-width="0.08" text-anchor="end" transform="translate(339.8,747.12) scale(0.62,1)">Gln-TTG</text>
<rect x="283.8" y="752.23" width="33.8" height="3.5" fill="#5b7bb4"/>
<rect x="248.8" y="752.23" width="35" height="3.5" fill="#a24e4c"/>
<rect x="204.7" y="752.23" width="44.1" height="3.5" fill="#746199"/>
<rect x="161.4" y="752.23" width="43.3" height="3.5" fill="#6aa5be"/>
<rect x="154.4" y="752.23" width="7" height="3.5" fill="#da924b"/>
<rect x="142.4" y="752.23" width="12" height="3.5" fill="#2e4a74"/>
<rect x="344.4" y="752.23" width="34.5" height="3.5" fill="#5b7bb4"/>
<rect x="378.9" y="752.23" width="43.2" height="3.5" fill="#a24e4c"/>
<rect x="422.1" y="752.23" width="40.8" height="3.5" fill="#746199"/>
<rect x="462.9" y="752.23" width="30.1" height="3.5" fill="#6aa5be"/>
<rect x="493" y="752.23" width="8.2" height="3.5" fill="#da924b"/>
<rect x="501.2" y="752.23" width="16.5" height="3.5" fill="#2e4a74"/>
<text x="0" y="0" font-size="7" fill="#5a5a5a" stroke="#5a5a5a" stroke-width="0.08" text-anchor="end" transform="translate(339.8,756.43) scale(0.62,1)">Gln-CTG</text>
<rect x="230.5" y="761.54" width="87.1" height="3.5" fill="#5b7bb4"/>
<rect x="206.3" y="761.54" width="24.2" height="3.5" fill="#a24e4c"/>
<rect x="204.5" y="761.54" width="1.8" height="3.5" fill="#9fb45d"/>
<rect x="189.4" y="761.54" width="15.1" height="3.5" fill="#746199"/>
<rect x="47" y="761.54" width="142.4" height="3.5" fill="#6aa5be"/>
<rect x="36.2" y="761.54" width="10.8" height="3.5" fill="#da924b"/>
<rect x="14.2" y="761.54" width="22" height="3.5" fill="#2e4a74"/>
<rect x="344.4" y="761.54" width="80.9" height="3.5" fill="#5b7bb4"/>
<rect x="425.3" y="761.54" width="23.9" height="3.5" fill="#a24e4c"/>
<rect x="449.2" y="761.54" width="1.6" height="3.5" fill="#9fb45d"/>
<rect x="450.8" y="761.54" width="13.2" height="3.5" fill="#746199"/>
<rect x="464" y="761.54" width="106.6" height="3.5" fill="#6aa5be"/>
<rect x="570.6" y="761.54" width="11" height="3.5" fill="#da924b"/>
<rect x="581.6" y="761.54" width="22.3" height="3.5" fill="#2e4a74"/>
<text x="0" y="0" font-size="7" fill="#5a5a5a" stroke="#5a5a5a" stroke-width="0.08" text-anchor="end" transform="translate(339.8,765.74) scale(0.62,1)">Cys-GCA</text>
<rect x="314.4" y="770.84" width="3.2" height="3.5" fill="#6aa5be"/>
<rect x="344.4" y="770.84" width="3.1" height="3.5" fill="#6aa5be"/>
<text x="0" y="0" font-size="7" fill="#5a5a5a" stroke="#5a5a5a" stroke-width="0.08" text-anchor="end" transform="translate(339.8,775.04) scale(0.62,1)">Cys-ACA</text>
<rect x="269.6" y="780.15" width="48" height="3.5" fill="#5b7bb4"/>
<rect x="216" y="780.15" width="53.6" height="3.5" fill="#a24e4c"/>
<rect x="105.8" y="780.15" width="110.2" height="3.5" fill="#746199"/>
<rect x="70.5" y="780.15" width="35.3" height="3.5" fill="#6aa5be"/>
<rect x="63.3" y="780.15" width="7.2" height="3.5" fill="#da924b"/>
<rect x="56" y="780.15" width="7.3" height="3.5" fill="#2e4a74"/>
<rect x="344.4" y="780.15" width="47.4" height="3.5" fill="#5b7bb4"/>
<rect x="391.8" y="780.15" width="64.4" height="3.5" fill="#a24e4c"/>
<rect x="456.2" y="780.15" width="106.3" height="3.5" fill="#746199"/>
<rect x="562.5" y="780.15" width="32.2" height="3.5" fill="#6aa5be"/>
<rect x="594.7" y="780.15" width="5.1" height="3.5" fill="#da924b"/>
<rect x="599.8" y="780.15" width="10.2" height="3.5" fill="#2e4a74"/>
<text x="0" y="0" font-size="7" fill="#5a5a5a" stroke="#5a5a5a" stroke-width="0.08" text-anchor="end" transform="translate(339.8,784.35) scale(0.62,1)">Asp-GTC</text>
<rect x="291.8" y="789.46" width="25.8" height="3.5" fill="#5b7bb4"/>
<rect x="242.5" y="789.46" width="49.3" height="3.5" fill="#a24e4c"/>
<rect x="230.5" y="789.46" width="12" height="3.5" fill="#746199"/>
<rect x="198" y="789.46" width="32.5" height="3.5" fill="#6aa5be"/>
<rect x="195.7" y="789.46" width="2.3" height="3.5" fill="#da924b"/>
<rect x="193.9" y="789.46" width="1.8" height="3.5" fill="#2e4a74"/>
<rect x="344.4" y="789.46" width="25.1" height="3.5" fill="#5b7bb4"/>
<rect x="369.5" y="789.46" width="53.7" height="3.5" fill="#a24e4c"/>
<rect x="423.2" y="789.46" width="12.1" height="3.5" fill="#746199"/>
<rect x="435.3" y="789.46" width="25.5" height="3.5" fill="#6aa5be"/>
<rect x="460.8" y="789.46" width="0.8" height="3.5" fill="#da924b"/>
<rect x="461.6" y="789.46" width="2.4" height="3.5" fill="#2e4a74"/>
<text x="0" y="0" font-size="7" fill="#5a5a5a" stroke="#5a5a5a" stroke-width="0.08" text-anchor="end" transform="translate(339.8,793.66) scale(0.62,1)">Asn-GTT</text>
<rect x="313.2" y="798.77" width="4.4" height="3.5" fill="#5b7bb4"/>
<rect x="309.6" y="798.77" width="3.6" height="3.5" fill="#a24e4c"/>
<rect x="344.4" y="798.77" width="3.6" height="3.5" fill="#5b7bb4"/>
<rect x="348" y="798.77" width="2.7" height="3.5" fill="#a24e4c"/>
<text x="0" y="0" font-size="7" fill="#5a5a5a" stroke="#5a5a5a" stroke-width="0.08" text-anchor="end" transform="translate(339.8,802.97) scale(0.62,1)">Asn-ATT</text>
<rect x="311" y="808.08" width="6.6" height="3.5" fill="#5b7bb4"/>
<rect x="297.4" y="808.08" width="13.6" height="3.5" fill="#a24e4c"/>
<rect x="276.4" y="808.08" width="21" height="3.5" fill="#746199"/>
<rect x="269.2" y="808.08" width="7.2" height="3.5" fill="#6aa5be"/>
<rect x="264" y="808.08" width="5.2" height="3.5" fill="#da924b"/>
<rect x="257.9" y="808.08" width="6.1" height="3.5" fill="#2e4a74"/>
<rect x="344.4" y="808.08" width="7.7" height="3.5" fill="#5b7bb4"/>
<rect x="352.1" y="808.08" width="9.9" height="3.5" fill="#a24e4c"/>
<rect x="362" y="808.08" width="15" height="3.5" fill="#746199"/>
<rect x="377" y="808.08" width="3.8" height="3.5" fill="#6aa5be"/>
<rect x="380.8" y="808.08" width="6.2" height="3.5" fill="#da924b"/>
<rect x="387" y="808.08" width="4.8" height="3.5" fill="#2e4a74"/>
<text x="0" y="0" font-size="7" fill="#5a5a5a" stroke="#5a5a5a" stroke-width="0.08" text-anchor="end" transform="translate(339.8,812.28) scale(0.62,1)">Arg-TCT</text>
<rect x="312.5" y="817.38" width="5.1" height="3.5" fill="#5b7bb4"/>
<rect x="300.1" y="817.38" width="12.4" height="3.5" fill="#a24e4c"/>
<rect x="297.2" y="817.38" width="2.9" height="3.5" fill="#746199"/>
<rect x="291.5" y="817.38" width="5.7" height="3.5" fill="#6aa5be"/>
<rect x="286.1" y="817.38" width="5.4" height="3.5" fill="#da924b"/>
<rect x="280.2" y="817.38" width="5.9" height="3.5" fill="#2e4a74"/>
<rect x="344.4" y="817.38" width="5.3" height="3.5" fill="#5b7bb4"/>
<rect x="349.7" y="817.38" width="9.3" height="3.5" fill="#a24e4c"/>
<rect x="359" y="817.38" width="2" height="3.5" fill="#746199"/>
<rect x="361" y="817.38" width="2.3" height="3.5" fill="#6aa5be"/>
<rect x="363.3" y="817.38" width="5.9" height="3.5" fill="#da924b"/>
<rect x="369.2" y="817.38" width="5.3" height="3.5" fill="#2e4a74"/>
<text x="0" y="0" font-size="7" fill="#5a5a5a" stroke="#5a5a5a" stroke-width="0.08" text-anchor="end" transform="translate(339.8,821.58) scale(0.62,1)">Arg-TCG</text>
<rect x="292.9" y="826.69" width="24.7" height="3.5" fill="#5b7bb4"/>
<rect x="273.4" y="826.69" width="19.5" height="3.5" fill="#a24e4c"/>
<rect x="242.7" y="826.69" width="30.7" height="3.5" fill="#746199"/>
<rect x="238.6" y="826.69" width="4.1" height="3.5" fill="#da924b"/>
<rect x="225.1" y="826.69" width="13.5" height="3.5" fill="#2e4a74"/>
<rect x="344.4" y="826.69" width="28.6" height="3.5" fill="#5b7bb4"/>
<rect x="373" y="826.69" width="21.5" height="3.5" fill="#a24e4c"/>
<rect x="394.5" y="826.69" width="27.6" height="3.5" fill="#746199"/>
<rect x="422.1" y="826.69" width="1.9" height="3.5" fill="#da924b"/>
<rect x="424" y="826.69" width="12.1" height="3.5" fill="#2e4a74"/>
<text x="0" y="0" font-size="7" fill="#5a5a5a" stroke="#5a5a5a" stroke-width="0.08" text-anchor="end" transform="translate(339.8,830.89) scale(0.62,1)">Arg-CCT</text>
<rect x="305.8" y="836" width="11.8" height="3.5" fill="#5b7bb4"/>
<rect x="301.9" y="836" width="3.9" height="3.5" fill="#a24e4c"/>
<rect x="257.6" y="836" width="44.3" height="3.5" fill="#746199"/>
<rect x="249.7" y="836" width="7.9" height="3.5" fill="#6aa5be"/>
<rect x="247.2" y="836" width="2.5" height="3.5" fill="#da924b"/>
<rect x="344.4" y="836" width="9.8" height="3.5" fill="#5b7bb4"/>
<rect x="354.2" y="836" width="4.6" height="3.5" fill="#a24e4c"/>
<rect x="358.8" y="836" width="38.9" height="3.5" fill="#746199"/>
<rect x="397.7" y="836" width="4" height="3.5" fill="#6aa5be"/>
<rect x="401.7" y="836" width="2.2" height="3.5" fill="#da924b"/>
<text x="0" y="0" font-size="7" fill="#5a5a5a" stroke="#5a5a5a" stroke-width="0.08" text-anchor="end" transform="translate(339.8,840.2) scale(0.62,1)">Arg-CCG</text>
<rect x="298.8" y="845.31" width="18.8" height="3.5" fill="#a24e4c"/>
<rect x="295.6" y="845.31" width="3.2" height="3.5" fill="#6aa5be"/>
<rect x="344.4" y="845.31" width="13" height="3.5" fill="#a24e4c"/>
<rect x="357.4" y="845.31" width="3.3" height="3.5" fill="#6aa5be"/>
<text x="0" y="0" font-size="7" fill="#5a5a5a" stroke="#5a5a5a" stroke-width="0.08" text-anchor="end" transform="translate(339.8,849.51) scale(0.62,1)">Arg-ACG</text>
<rect x="295.1" y="854.62" width="22.5" height="3.5" fill="#5b7bb4"/>
<rect x="258.8" y="854.62" width="36.3" height="3.5" fill="#a24e4c"/>
<rect x="256.7" y="854.62" width="2.1" height="3.5" fill="#6aa5be"/>
<rect x="254.9" y="854.62" width="1.8" height="3.5" fill="#da924b"/>
<rect x="246.1" y="854.62" width="8.8" height="3.5" fill="#2e4a74"/>
<rect x="344.4" y="854.62" width="19.8" height="3.5" fill="#5b7bb4"/>
<rect x="364.2" y="854.62" width="41" height="3.5" fill="#a24e4c"/>
<rect x="405.2" y="854.62" width="1.9" height="3.5" fill="#6aa5be"/>
<rect x="407.1" y="854.62" width="1.9" height="3.5" fill="#da924b"/>
<rect x="409" y="854.62" width="9.4" height="3.5" fill="#2e4a74"/>
<text x="0" y="0" font-size="7" fill="#5a5a5a" stroke="#5a5a5a" stroke-width="0.08" text-anchor="end" transform="translate(339.8,858.82) scale(0.62,1)">Ala-TGC</text>
<rect x="309.2" y="863.92" width="8.4" height="3.5" fill="#5b7bb4"/>
<rect x="302.8" y="863.92" width="6.4" height="3.5" fill="#746199"/>
<rect x="292" y="863.92" width="10.8" height="3.5" fill="#6aa5be"/>
<rect x="289.7" y="863.92" width="2.3" height="3.5" fill="#da924b"/>
<rect x="285.4" y="863.92" width="4.3" height="3.5" fill="#2e4a74"/>
<rect x="344.4" y="863.92" width="5.8" height="3.5" fill="#5b7bb4"/>
<rect x="350.2" y="863.92" width="5.9" height="3.5" fill="#746199"/>
<rect x="356.1" y="863.92" width="6.7" height="3.5" fill="#6aa5be"/>
<rect x="362.8" y="863.92" width="1.9" height="3.5" fill="#da924b"/>
<rect x="364.7" y="863.92" width="4.3" height="3.5" fill="#2e4a74"/>
<text x="0" y="0" font-size="7" fill="#5a5a5a" stroke="#5a5a5a" stroke-width="0.08" text-anchor="end" transform="translate(339.8,868.12) scale(0.62,1)">Ala-CGC</text>
<rect x="219.9" y="873.23" width="97.7" height="3.5" fill="#5b7bb4"/>
<rect x="183.7" y="873.23" width="36.2" height="3.5" fill="#a24e4c"/>
<rect x="180.3" y="873.23" width="3.4" height="3.5" fill="#746199"/>
<rect x="150.5" y="873.23" width="29.8" height="3.5" fill="#6aa5be"/>
<rect x="144.2" y="873.23" width="6.3" height="3.5" fill="#da924b"/>
<rect x="122.3" y="873.23" width="21.9" height="3.5" fill="#2e4a74"/>
<rect x="344.4" y="873.23" width="85.5" height="3.5" fill="#5b7bb4"/>
<rect x="429.9" y="873.23" width="46.4" height="3.5" fill="#a24e4c"/>
<rect x="476.3" y="873.23" width="2.7" height="3.5" fill="#746199"/>
<rect x="479" y="873.23" width="19.3" height="3.5" fill="#6aa5be"/>
<rect x="498.3" y="873.23" width="7.6" height="3.5" fill="#da924b"/>
<rect x="505.9" y="873.23" width="28.5" height="3.5" fill="#2e4a74"/>
<text x="0" y="0" font-size="7" fill="#5a5a5a" stroke="#5a5a5a" stroke-width="0.08" text-anchor="end" transform="translate(339.8,877.43) scale(0.62,1)">Ala-AGC</text>
<defs><clipPath id="cl"><rect x="-20" y="-10" width="19.3" height="20"/></clipPath></defs>
<text x="0" y="0" font-size="6.5" fill="#5a5a5a" text-anchor="middle" transform="translate(15.8,890.7) scale(0.7,1)">2500</text>
<text x="0" y="0" font-size="6.5" fill="#5a5a5a" text-anchor="middle" transform="translate(75.8,890.7) scale(0.7,1)">2000</text>
<text x="0" y="0" font-size="6.5" fill="#5a5a5a" text-anchor="middle" transform="translate(136,890.7) scale(0.7,1)">1500</text>
<text x="0" y="0" font-size="6.5" fill="#5a5a5a" text-anchor="middle" transform="translate(197.2,890.7) scale(0.7,1)">1000</text>
<text x="0" y="0" font-size="6.5" fill="#5a5a5a" text-anchor="middle" transform="translate(257,890.7) scale(0.7,1)">500</text>
<text x="0" y="0" font-size="6.5" fill="#5a5a5a" text-anchor="middle" transform="translate(317.3,890.7) scale(0.7,1)">0</text>
<text x="0" y="0" font-size="6.5" fill="#5a5a5a" text-anchor="middle" transform="translate(344.4,890.7) scale(0.7,1)">0</text>
<text x="0" y="0" font-size="6.5" fill="#5a5a5a" text-anchor="middle" transform="translate(405.1,890.7) scale(0.7,1)">500</text>
<text x="0" y="0" font-size="6.5" fill="#5a5a5a" text-anchor="middle" transform="translate(464.8,890.7) scale(0.7,1)">1000</text>
<text x="0" y="0" font-size="6.5" fill="#5a5a5a" text-anchor="middle" transform="translate(525.6,890.7) scale(0.7,1)">1500</text>
<text x="0" y="0" font-size="6.5" fill="#5a5a5a" text-anchor="middle" transform="translate(585.8,890.7) scale(0.7,1)">2000</text>
<text x="0" y="0" font-size="6.5" fill="#5a5a5a" text-anchor="middle" transform="translate(646,890.7) scale(0.7,1)">2500</text>
<text x="0" y="0" font-size="6.5" fill="#5a5a5a" text-anchor="middle" transform="translate(706.6,890.7) scale(0.7,1)" clip-path="url(#cl)">3000</text>
<defs><clipPath id="cl2"><rect x="600" y="500" width="105.8" height="300"/></clipPath></defs>
<rect x="688.3" y="583" width="2.4" height="3.3" fill="#5b7bb4"/>
<g clip-path="url(#cl2)"><text x="0" y="0" font-size="6.4" fill="#505050" stroke="#505050" stroke-width="0.1" transform="translate(691.9,587) scale(0.66,1)">tRF5</text></g>
<rect x="688.3" y="595.6" width="2.4" height="3.3" fill="#a24e4c"/>
<g clip-path="url(#cl2)"><text x="0" y="0" font-size="6.4" fill="#505050" stroke="#505050" stroke-width="0.1" transform="translate(691.9,599.6) scale(0.66,1)">tRF3</text></g>
<rect x="688.3" y="608.1" width="2.4" height="3.3" fill="#9fb45d"/>
<g clip-path="url(#cl2)"><text x="0" y="0" font-size="6.4" fill="#505050" stroke="#505050" stroke-width="0.1" transform="translate(691.9,612.1) scale(0.66,1)">tRF1</text></g>
<rect x="688.3" y="621.1" width="2.4" height="3.3" fill="#746199"/>
<g clip-path="url(#cl2)"><text x="0" y="0" font-size="6.4" fill="#505050" stroke="#505050" stroke-width="0.1" transform="translate(691.9,625.1) scale(0.66,1)">i-tRF</text></g>
<rect x="688.3" y="634.2" width="2.4" height="3.3" fill="#6aa5be"/>
<g clip-path="url(#cl2)"><text x="0" y="0" font-size="6.4" fill="#505050" stroke="#505050" stroke-width="0.1" transform="translate(691.9,638.2) scale(0.66,1)">5-tiRNA</text></g>
<rect x="688.3" y="647" width="2.4" height="3.3" fill="#da924b"/>
<g clip-path="url(#cl2)"><text x="0" y="0" font-size="6.4" fill="#505050" stroke="#505050" stroke-width="0.1" transform="translate(691.9,651) scale(0.66,1)">5-Lead</text></g>
<rect x="688.3" y="660.1" width="2.4" height="3.3" fill="#2e4a74"/>
<g clip-path="url(#cl2)"><text x="0" y="0" font-size="6.4" fill="#505050" stroke="#505050" stroke-width="0.1" transform="translate(691.9,664.1) scale(0.66,1)">3-tiRNA</text></g>
</svg>
</body></html>
